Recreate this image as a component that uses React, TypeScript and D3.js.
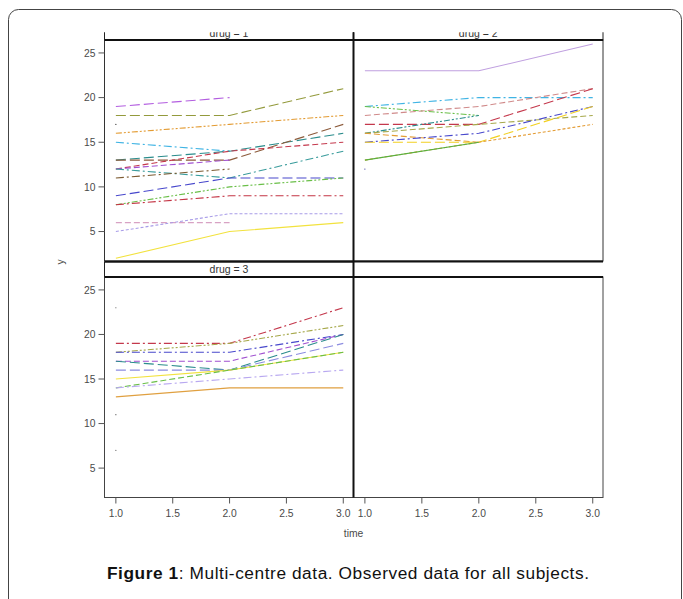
import React from "react";
import * as d3 from "d3";

// ---------- data ----------
const times = [1, 2, 3];
const yTicks = [5, 10, 15, 20, 25];
const xTicks = [1.0, 1.5, 2.0, 2.5, 3.0];
const panelTitles = ["drug = 1", "drug = 2", "drug = 3"];

type V = number | null;
const drug1Values: V[][] = [
  [19, 20, null],
  [18, 18, 21],
  [16, 17, 18],
  [15, 14, null],
  [13, 14, 16],
  [13, 13, 17],
  [12, 14, 15],
  [12, 13, null],
  [12, 11, 14],
  [11, 12, null],
  [9, 11, 11],
  [8, 10, 11],
  [8, 9, 9],
  [6, 6, null],
  [5, 7, 7],
  [2, 5, 6],
  [17, null, null],
];
const drug2Values: V[][] = [
  [23, 23, 26],
  [19, 20, 20],
  [19, 18, null],
  [18, 19, 21],
  [17, 17, 21],
  [16, 18, null],
  [16, 17, 18],
  [16, 15, null],
  [15, 16, 19],
  [15, 15, 19],
  [13, 15, 17],
  [13, 15, null],
  [12, null, null],
];
const drug3Values: V[][] = [
  [19, 19, 23],
  [18, 19, 21],
  [18, 18, 20],
  [17, 17, 20],
  [17, 16, 20],
  [16, 16, 19],
  [15, 16, 18],
  [14, 16, 18],
  [14, 15, 16],
  [13, 14, 14],
  [23, null, null],
  [11, null, null],
  [7, null, null],
];

// ---------- styles ----------
const D_LONG = "10,4";
const D_DASH = "6,3";
const D_DOT = "8,3,2,3";
const D_DDOT = "6,2,2,2,2,2";
const D_SHORT = "3,2";
const D_SOLID = "none";

const drug1Styles = [
  ["#b35ee0", D_LONG],
  ["#939a3c", D_LONG],
  ["#e39b32", D_DDOT],
  ["#40b4e4", D_DOT],
  ["#2a8c8c", D_LONG],
  ["#8c5a3a", D_LONG],
  ["#c4384c", D_DASH],
  ["#a050d0", D_DASH],
  ["#3a9c9c", D_DOT],
  ["#7c5a30", D_DOT],
  ["#4848cc", D_LONG],
  ["#6abf48", D_DDOT],
  ["#c43444", D_DOT],
  ["#d8a2c4", D_DASH],
  ["#a89ce8", D_SHORT],
  ["#f2e23e", D_SOLID],
  ["#333333", D_SOLID],
];
const drug2Styles = [
  ["#c0a0e0", D_SOLID],
  ["#40b4e4", D_DOT],
  ["#6abf48", D_DDOT],
  ["#d08a8a", D_DASH],
  ["#c4384c", D_LONG],
  ["#2a8c8c", D_DDOT],
  ["#a6a84a", D_DASH],
  ["#e39b32", D_DASH],
  ["#4848cc", D_DOT],
  ["#f2d020", D_LONG],
  ["#e39b32", D_SHORT],
  ["#58b040", D_SOLID],
  ["#333399", D_SOLID],
];
const drug3Styles = [
  ["#c4384c", D_DOT],
  ["#a6a84a", D_DDOT],
  ["#4848cc", D_DOT],
  ["#a050d0", D_DASH],
  ["#2a8c8c", D_LONG],
  ["#8c8ce0", D_LONG],
  ["#f2e23e", D_SOLID],
  ["#6abf48", D_DASH],
  ["#b8a8f0", D_DOT],
  ["#e0a040", D_SOLID],
  ["#555555", D_SOLID],
  ["#555555", D_SOLID],
  ["#555555", D_SOLID],
];

// ---------- layout ----------
const W = 683;
const H = 599;
const colX = [[104.5, 353.5], [353.5, 603]];
const rowY = [[40, 261], [277, 497.5]];
const FONT = "'Liberation Sans', Arial, sans-serif";
const TICK_COLOR = "#555";
const LABEL_COLOR = "#4a4a4a";
const CLIP_TOP = 32.3;

function Panel({ values, styles, col, row }: { values: V[][]; styles: string[][]; col: number; row: number }) {
  const x = d3.scaleLinear().domain([0.9, 3.09]).range(colX[col]);
  const y = d3.scaleLinear().domain([1.7, 26.45]).range([rowY[row][1], rowY[row][0]]);
  const line = d3
    .line<V>()
    .defined((d) => d !== null)
    .x((_, i) => x(times[i]))
    .y((d) => y(d as number));
  return (
    <g>
      {values.map((vals, i) => {
        const nonNull = vals.filter((v) => v !== null).length;
        const [color, dash] = styles[i];
        if (nonNull === 1) {
          const idx = vals.findIndex((v) => v !== null);
          return <circle key={i} cx={x(times[idx])} cy={y(vals[idx] as number)} r={0.6} fill={color} />;
        }
        return (
          <path
            key={i}
            d={line(vals) || ""}
            fill="none"
            stroke={color}
            strokeWidth={1.1}
            strokeDasharray={dash === "none" ? undefined : dash}
          />
        );
      })}
    </g>
  );
}

export default function App() {
  const yTop = d3.scaleLinear().domain([1.7, 26.45]).range([rowY[0][1], rowY[0][0]]);
  const yBot = d3.scaleLinear().domain([1.7, 26.45]).range([rowY[1][1], rowY[1][0]]);
  const xL = d3.scaleLinear().domain([0.9, 3.09]).range(colX[0]);
  const xR = d3.scaleLinear().domain([0.9, 3.09]).range(colX[1]);
  const pw = colX[0][1] - colX[0][0];
  const pw2 = colX[1][1] - colX[1][0];

  return (
    <svg width={W} height={H} style={{ position: "absolute", left: 0, top: 0, background: "#fff" }} fontFamily={FONT}>
      <defs>
        <clipPath id="topclip">
          <rect x={0} y={CLIP_TOP} width={W} height={H} />
        </clipPath>
      </defs>
      {/* outer rounded frame */}
      <rect x={8.5} y={9.5} width={673} height={640} rx={10} ry={10} fill="none" stroke="#444" strokeWidth={1} />

      {/* top strips (clipped) */}
      <g clipPath="url(#topclip)">
        <rect x={colX[0][0]} y={25} width={pw} height={15} fill="#fff" stroke="#222" strokeWidth={1} />
        <rect x={colX[1][0]} y={25} width={pw2} height={15} fill="#fff" stroke="#222" strokeWidth={1} />
        <text x={(colX[0][0] + colX[0][1]) / 2} y={37.4} textAnchor="middle" fontSize={10.5} fill="#333">
          {panelTitles[0]}
        </text>
        <text x={(colX[1][0] + colX[1][1]) / 2} y={37.4} textAnchor="middle" fontSize={10.5} fill="#333">
          {panelTitles[1]}
        </text>
      </g>

      {/* strip drug = 3 */}
      <rect x={colX[0][0]} y={262} width={pw} height={15} fill="#fff" stroke="#222" strokeWidth={1} />
      <text x={(colX[0][0] + colX[0][1]) / 2} y={273.3} textAnchor="middle" fontSize={10.5} fill="#333">
        {panelTitles[2]}
      </text>

      {/* panel frames */}
      <rect x={colX[0][0]} y={rowY[0][0]} width={pw} height={rowY[0][1] - rowY[0][0]} fill="none" stroke="#333" strokeWidth={1} />
      <rect x={colX[1][0]} y={rowY[0][0]} width={pw2} height={rowY[0][1] - rowY[0][0]} fill="none" stroke="#333" strokeWidth={1} />
      <rect x={colX[0][0]} y={rowY[1][0]} width={pw} height={rowY[1][1] - rowY[1][0]} fill="none" stroke="#444" strokeWidth={1} />
      <rect x={colX[1][0]} y={rowY[1][0]} width={pw2} height={rowY[1][1] - rowY[1][0]} fill="none" stroke="#444" strokeWidth={1} />

      {/* thick dividers */}
      <line x1={colX[0][0]} x2={603} y1={40} y2={40} stroke="#111" strokeWidth={2} />
      <line x1={colX[0][0]} x2={603} y1={261.5} y2={261.5} stroke="#111" strokeWidth={2} />
      <line x1={colX[0][0]} x2={603} y1={277} y2={277} stroke="#111" strokeWidth={2} />
      <line x1={353.5} x2={353.5} y1={CLIP_TOP} y2={497.5} stroke="#111" strokeWidth={2} />

      {/* data */}
      <Panel values={drug1Values} styles={drug1Styles} col={0} row={0} />
      <Panel values={drug2Values} styles={drug2Styles} col={1} row={0} />
      <Panel values={drug3Values} styles={drug3Styles} col={0} row={1} />

      {/* y axes */}
      {[yTop, yBot].map((ys, r) => (
        <g key={r}>
          {yTicks.map((t) => (
            <g key={t}>
              <line x1={98.5} x2={104.5} y1={ys(t)} y2={ys(t)} stroke={TICK_COLOR} strokeWidth={1} />
              <text x={95.5} y={ys(t) + 3.7} textAnchor="end" fontSize={10.3} fill={LABEL_COLOR}>
                {t}
              </text>
            </g>
          ))}
        </g>
      ))}
      <text transform="translate(64,262) rotate(-90)" textAnchor="middle" fontSize={10.3} fill={LABEL_COLOR}>
        y
      </text>

      {/* x axes */}
      {[xL, xR].map((xs, c) => (
        <g key={c}>
          {xTicks.map((t) => (
            <g key={t}>
              <line x1={xs(t)} x2={xs(t)} y1={497.5} y2={503.5} stroke={TICK_COLOR} strokeWidth={1} />
              <text x={xs(t)} y={517.4} textAnchor="middle" fontSize={10.3} fill={LABEL_COLOR}>
                {t.toFixed(1)}
              </text>
            </g>
          ))}
        </g>
      ))}
      <text x={353.5} y={536.5} textAnchor="middle" fontSize={10.3} fill={LABEL_COLOR}>
        time
      </text>

      {/* caption */}
      <text x={107} y={579} fontSize={17.3} fill="#111" textLength={482} lengthAdjust="spacing">
        <tspan fontWeight="bold">Figure 1</tspan>
        <tspan>: Multi-centre data. Observed data for all subjects.</tspan>
      </text>
    </svg>
  );
}
